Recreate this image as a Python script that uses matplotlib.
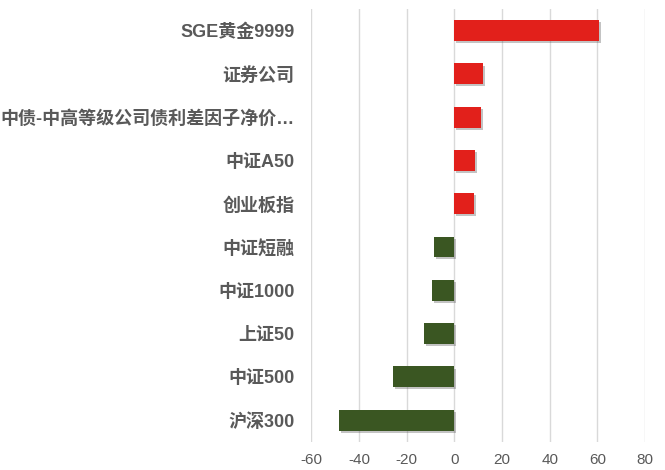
import matplotlib
matplotlib.use("Agg")
import matplotlib.pyplot as plt
import matplotlib.patheffects as pe

plt.rcParams['font.family'] = ['Liberation Sans', 'Noto Sans CJK SC', 'DejaVu Sans']
plt.rcParams['axes.unicode_minus'] = False

# Data (top to bottom)
categories = ['SGE黄金9999', '证券公司', '中债-中高等级公司债利差因子净价…', '中证A50', '创业板指',
              '中证短融', '中证1000', '上证50', '中证500', '沪深300']
values = [60.8, 12.2, 11.2, 8.5, 8.4, -8.5, -9.4, -12.7, -25.7, -48.2]

red = '#E2201B'
green = '#3A5622'
text_gray = '#595959'

fig = plt.figure(figsize=(6.65, 4.70), dpi=100)
ax = fig.add_axes([0.468, 0.060, 0.502, 0.921])

pos = list(range(len(categories)))[::-1]
colors = [red if v > 0 else green for v in values]
bars = ax.barh(pos, values, height=0.48, color=colors, zorder=3)
for b in bars:
    b.set_path_effects([pe.SimplePatchShadow(offset=(1.5, -1.5), shadow_rgbFace='#555555', alpha=0.35),
                        pe.Normal()])

ax.set_xlim(-60, 80)
ax.set_ylim(-0.5, 9.5)
ax.set_xticks(range(-60, 81, 20))
ax.set_yticks(pos)
ax.set_yticklabels(categories, fontsize=13, fontweight='bold', color=text_gray)
ax.tick_params(axis='x', labelsize=11, colors=text_gray, length=0, pad=8)
ax.tick_params(axis='y', length=0, pad=12)

ax.grid(axis='x', color='#D9D9D9', linewidth=1, zorder=0)
for s in ax.spines.values():
    s.set_visible(False)

fig.savefig('out.png', dpi=100)
